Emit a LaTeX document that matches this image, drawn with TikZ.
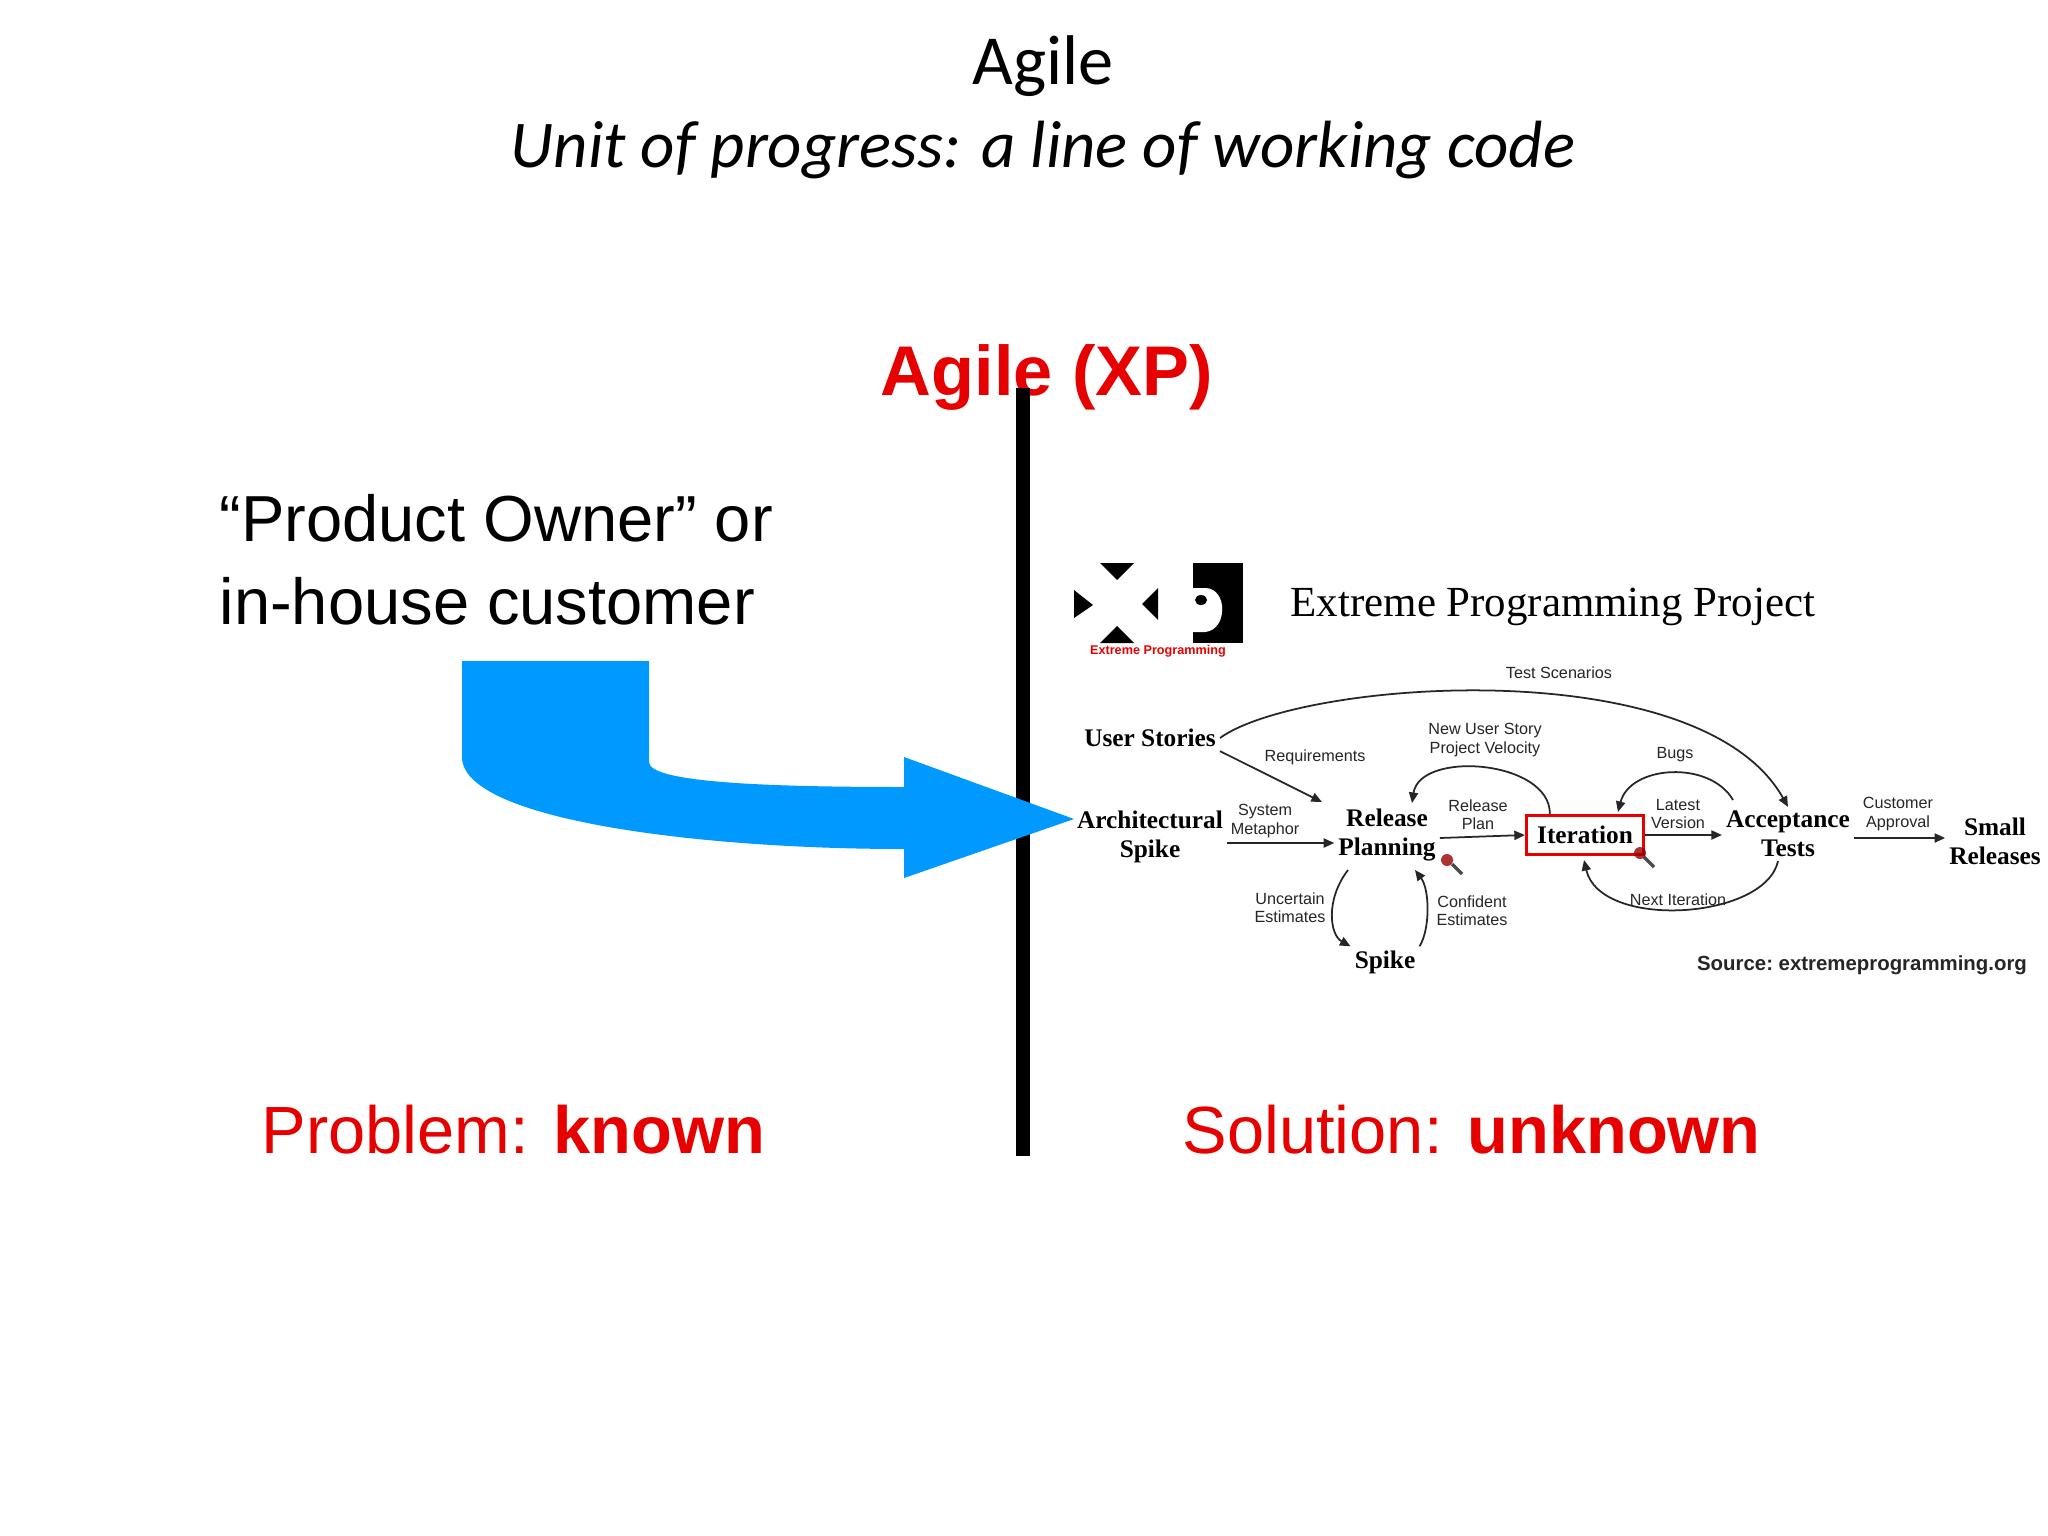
\documentclass[tikz,border=0pt]{standalone}
\usepackage{fontspec}
\setmainfont{Liberation Serif}
\newfontfamily\calfont{Carlito}
\newfontfamily\ars{Liberation Sans}
\usetikzlibrary{arrows.meta}
\definecolor{xpred}{RGB}{230,0,0}
\definecolor{xpblue}{RGB}{0,153,255}
\begin{document}
\begin{tikzpicture}[x=0.01cm,y=-0.01cm,
  lbl/.style={font=\ars\fontsize{4.6}{5.2}\selectfont,align=center,inner sep=0pt,text=black!85},
  xpn/.style={font=\fontsize{7.2}{8.2}\selectfont\bfseries,align=center,inner sep=1pt},
  ar/.style={-{Triangle[length=3pt,width=2.6pt]},line width=0.5pt,black!85}]
\useasboundingbox (0,0) rectangle (2048,1536);
\fill[white] (0,0) rectangle (2048,1536);
\node (t1) at (1043,66) {\calfont\fontsize{20}{24}\selectfont Agile};
\node (t2) at (1043,150) {\calfont\itshape\fontsize{19}{23}\selectfont Unit of progress: a line of working code};
\node[text=xpred] (axp) at (1047,377) {\ars\bfseries\fontsize{20}{24}\selectfont Agile (XP)};
\coordinate (v1) at (1023,388); \coordinate (v2) at (1023,1156);
\draw[line width=3.8pt] (v1) -- (v2);
\node[anchor=west,align=left,inner sep=0pt,font=\ars\fontsize{18.5}{23.5}\selectfont] (po) at (219,560) {“Product Owner” or\\in-house customer};
% blue arrow
\fill[xpblue] (462,661) -- (649,661) -- (649,762) .. controls (649,782) and (760,787) .. (904,787)
  -- (904,757) -- (1074,819) -- (904,878) -- (904,849)
  .. controls (700,849) and (462,820) .. (462,757) -- cycle;
\node[text=xpred,anchor=west,inner sep=0pt] (pk) at (261,1130) {\ars\fontsize{19}{23}\selectfont Problem: \textbf{known}};
\node[text=xpred,anchor=west,inner sep=0pt] (su) at (1182,1130) {\ars\fontsize{19}{23}\selectfont Solution: \textbf{unknown}};
% XP logo
\fill[black] (1074,590) -- (1093,605) -- (1074,618) -- cycle;
\fill[black] (1100,563) -- (1134,563) -- (1117,580) -- cycle;
\fill[black] (1100,643) -- (1134,643) -- (1117,626) -- cycle;
\fill[black] (1158,588) -- (1142,604) -- (1158,620) -- cycle;
\fill[black] (1193,563) rectangle (1243,643);
\fill[white] (1193,588) -- (1205,588) .. controls (1228,588) and (1228,630) .. (1205,632) -- (1193,632) -- cycle;
\fill[black] (1201,600) ellipse (6 and 5);
\node[text=xpred,font=\ars\bfseries\fontsize{3.6}{4}\selectfont,inner sep=0pt] (lg) at (1158,651) {Extreme Programming};
\node[anchor=west,inner sep=0pt] (xpt) at (1290,607) {\fontsize{12.2}{15}\selectfont Extreme Programming Project};
% nodes
\node[xpn] (us) at (1150,738) {User Stories};
\node[xpn] (as) at (1150,837) {Architectural\\Spike};
\node[xpn] (rp) at (1387,835) {Release\\Planning};
\node[xpn] (sp) at (1385,962) {Spike};
\node[xpn,draw=xpred,line width=1pt,inner sep=3pt] (it) at (1585,835) {Iteration};
\node[xpn] (at) at (1788,834) {Acceptance\\Tests};
\node[xpn] (sr) at (1995,841) {Small\\Releases};
\node[font=\ars\bfseries\fontsize{5.8}{6.5}\selectfont,inner sep=0pt,text=black!85] (src) at (1862,965) {Source:\ extremeprogramming.org};
% labels
\node[lbl] (l1) at (1559,673) {Test Scenarios};
\node[lbl] (l2) at (1315,757) {Requirements};
\node[lbl] (l3) at (1485,740) {New User Story\\Project Velocity};
\node[lbl] (l4) at (1265,821) {System\\Metaphor};
\node[lbl] (l5) at (1478,815) {Release\\Plan};
\node[lbl] (l6) at (1290,908) {Uncertain\\Estimates};
\node[lbl] (l7) at (1472,911) {Confident\\Estimates};
\node[lbl] (l8) at (1675,755) {Bugs};
\node[lbl] (l9) at (1678,814) {Latest\\Version};
\node[lbl] (l10) at (1898,814) {Customer\\Approval};
\node[lbl] (l11) at (1678,900) {Next Iteration};
% connectors
\draw[ar] (us.east) .. controls (1300,680) and (1700,650) .. (at.north);
\draw[ar] (us.south east) -- (1322,802);
\draw[ar] (as.east |- 0,843) -- (rp.west |- 0,843);
\draw[ar] (rp.east |- 0,838) -- (it.west);
\draw[ar] (it.north west) ++(25,0) .. controls (1550,760) and (1420,750) .. (1412,803);
\draw[ar] (1348,870) .. controls (1325,900) and (1330,935) .. (sp.north west);
\draw[ar] (sp.north east) .. controls (1430,930) and (1430,890) .. (1415,870);
\draw[ar] (1733,800) .. controls (1710,760) and (1630,765) .. (1618,812);
\draw[ar] (it.east) -- (at.west |- it.east);
\draw[ar] (at.south) ++(-10,0) .. controls (1765,920) and (1600,930) .. (1584,860);
\draw[ar] (at.east |- 0,838) -- (sr.west |- 0,838);
% magnifiers
\draw[line width=1pt,black!70] (1452,864) -- (1462,874);
\fill[red!60!black,opacity=0.8] (1447,860) circle (6);
\draw[line width=1pt,black!70] (1644,857) -- (1654,867);
\fill[red!60!black,opacity=0.8] (1640,853) circle (6);
\end{tikzpicture}
\end{document}
